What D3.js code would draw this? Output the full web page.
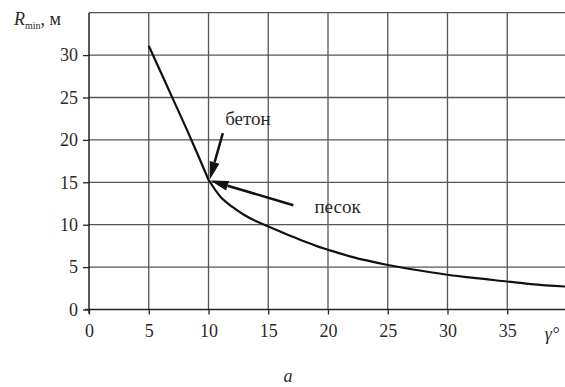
<!DOCTYPE html>
<html>
<head>
<meta charset="utf-8">
<script src="https://cdn.jsdelivr.net/npm/d3@7/dist/d3.min.js"></script>
<style>
  html, body { margin: 0; padding: 0; background: #fff; }
  svg { display: block; }
  text { font-family: "Liberation Serif", "DejaVu Serif", serif; fill: #2a2a2a; }
</style>
</head>
<body>
<svg id="chart" width="565" height="387"></svg>
<script>
// Slope angle, degrees, and minimum radius, metres
const concreteAngle = [5, 6, 7, 8, 9, 10];
const concreteRadius = [31.1, 28.0, 24.9, 21.8, 18.6, 15.3];
const sandAngle = [10, 11, 12, 13, 14, 15, 16, 17, 18, 19, 20, 22, 25, 27, 30, 32, 35, 37, 40];
const sandRadius = [15.3, 13.3, 12.1, 11.15, 10.4, 9.8, 9.2, 8.6, 8.05, 7.5, 7.05, 6.2, 5.25, 4.75, 4.1, 3.75, 3.3, 3.0, 2.7];
const xTicks = [0, 5, 10, 15, 20, 25, 30, 35];
const yTicks = [0, 5, 10, 15, 20, 25, 30];
const gridX = [5, 10, 15, 20, 25, 30, 35];
const gridY = [5, 10, 15, 20, 25, 30, 35];

const svg = d3.select("#chart");
const x = d3.scaleLinear().domain([0, 40]).range([89, 567]);
const y = d3.scaleLinear().domain([0, 35]).range([309.5, 12.7]);

// grid
const grid = svg.append("g").attr("stroke", "#555").attr("stroke-width", 1.3);
grid.selectAll("line.v").data(gridX).join("line")
  .attr("x1", d => x(d)).attr("x2", d => x(d))
  .attr("y1", y(35)).attr("y2", y(0));
grid.selectAll("line.h").data(gridY).join("line")
  .attr("x1", x(0)).attr("x2", 565)
  .attr("y1", d => y(d)).attr("y2", d => y(d));

// axes
const yAxis = svg.append("g").attr("transform", `translate(${x(0)},0)`)
  .call(d3.axisLeft(y).tickValues(yTicks).tickSize(6).tickPadding(5).tickFormat(d3.format("d")));
const xAxis = svg.append("g").attr("transform", `translate(0,${y(0)})`)
  .call(d3.axisBottom(x).tickValues(xTicks).tickSize(5).tickPadding(10).tickFormat(d3.format("d")));
[yAxis, xAxis].forEach(a => {
  a.select(".domain").remove();
  a.selectAll(".tick line").attr("stroke", "#222").attr("stroke-width", 1.3);
  a.selectAll("text").attr("font-size", 18).attr("fill", "#2a2a2a")
    .style("font-family", "'Liberation Serif', serif");
});
svg.append("line").attr("x1", x(0)).attr("x2", x(0)).attr("y1", y(35)).attr("y2", y(0) + 4)
  .attr("stroke", "#222").attr("stroke-width", 1.5);
svg.append("line").attr("x1", x(0) - 4).attr("x2", 565).attr("y1", y(0)).attr("y2", y(0))
  .attr("stroke", "#222").attr("stroke-width", 1.5);

// axis titles
const rt = svg.append("text").attr("x", 14).attr("y", 25).attr("font-size", 18);
rt.append("tspan").attr("font-style", "italic").text("R");
rt.append("tspan").attr("font-size", 10).attr("dy", 4).text("min");
rt.append("tspan").attr("dy", -4).text(", м");
svg.append("text").attr("x", 552).attr("y", y(0) + 30).attr("font-size", 18)
  .attr("font-style", "italic").attr("text-anchor", "middle").text("γ°");
svg.append("text").attr("x", 288).attr("y", 382).attr("font-size", 18)
  .attr("font-style", "italic").attr("text-anchor", "middle").text("а");

// curves
const line = d3.line().x(d => x(d[0])).y(d => y(d[1])).curve(d3.curveMonotoneX);
svg.append("path").datum(concreteAngle.map((a, i) => [a, concreteRadius[i]]))
  .attr("d", line).attr("fill", "none").attr("stroke", "#111").attr("stroke-width", 2.2);
svg.append("path").datum(sandAngle.map((a, i) => [a, sandRadius[i]]))
  .attr("d", line).attr("fill", "none").attr("stroke", "#111").attr("stroke-width", 2.2);

// annotations with arrows
function arrow(from, to) {
  const x1 = x(from[0]), y1 = y(from[1]), x2 = x(to[0]), y2 = y(to[1]);
  const ang = Math.atan2(y2 - y1, x2 - x1);
  const L = 18, W = 5;
  const bx = x2 - L * Math.cos(ang), by = y2 - L * Math.sin(ang);
  svg.append("line").attr("x1", x1).attr("y1", y1).attr("x2", bx).attr("y2", by)
    .attr("stroke", "#111").attr("stroke-width", 2.5);
  const px = -Math.sin(ang) * W, py = Math.cos(ang) * W;
  svg.append("path")
    .attr("d", `M${x2},${y2}L${bx + px},${by + py}L${bx - px},${by - py}Z`)
    .attr("fill", "#111");
}
arrow([11.2, 20.8], [10.1, 15.3]);
arrow([17.1, 12.3], [10.15, 15.2]);
svg.append("text").attr("x", x(13.3)).attr("y", y(21.8)).attr("font-size", 19)
  .attr("text-anchor", "middle").text("бетон");
svg.append("text").attr("x", x(20.8)).attr("y", y(11.4)).attr("font-size", 19)
  .attr("text-anchor", "middle").text("песок");
</script>
</body>
</html>
